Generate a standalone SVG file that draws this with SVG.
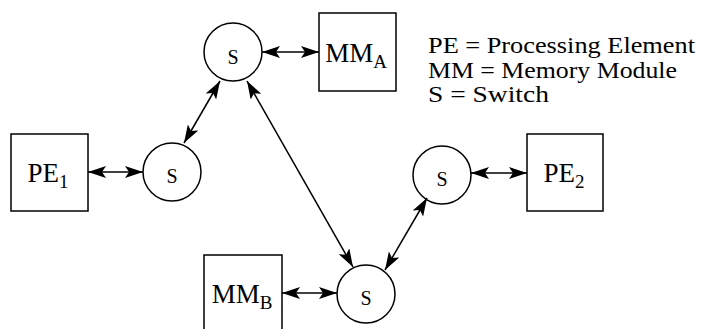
<svg xmlns="http://www.w3.org/2000/svg" width="702" height="329" viewBox="0 0 702 329">
<style>
text{font-family:"Liberation Serif","Times New Roman",serif;fill:#000;font-size:27px}
.lg{font-size:22.5px}
.sw{font-size:20px}
.sub{font-size:19px}
rect,circle{fill:#fff;stroke:#000;stroke-width:1.5}
.c line{stroke:#000;stroke-width:1.5;marker-start:url(#ah);marker-end:url(#ah)}
</style>
<defs>
<marker id="ah" markerUnits="userSpaceOnUse" markerWidth="18" markerHeight="12" refX="18" refY="6" orient="auto-start-reverse" viewBox="0 0 18 12">
<path d="M0,0 L18,6 L0,12 L4,6 z" fill="#000"/>
</marker>
</defs>
<g id="sw-top"><circle cx="233" cy="52" r="29"/><text class="sw" x="233" y="64" text-anchor="middle">S</text></g>
<g id="mm-a"><rect x="319" y="13" width="77" height="78"/><text x="356" y="62" text-anchor="middle">MM<tspan class="sub" dy="6">A</tspan></text></g>
<g id="pe-1"><rect x="11" y="134" width="77" height="77"/><text x="48" y="182" text-anchor="middle">PE<tspan class="sub" dy="6">1</tspan></text></g>
<g id="sw-left"><circle cx="172" cy="172" r="29"/><text class="sw" x="172" y="183" text-anchor="middle">S</text></g>
<g id="sw-right"><circle cx="442" cy="175" r="29"/><text class="sw" x="442" y="186" text-anchor="middle">S</text></g>
<g id="pe-2"><rect x="527" y="134" width="76" height="77"/><text x="564" y="182" text-anchor="middle">PE<tspan class="sub" dy="6">2</tspan></text></g>
<g id="mm-b"><rect x="204" y="255" width="78" height="78"/><text x="242" y="303" text-anchor="middle">MM<tspan class="sub" dy="6">B</tspan></text></g>
<g id="sw-bottom"><circle cx="366" cy="294" r="29"/><text class="sw" x="366" y="305" text-anchor="middle">S</text></g>
<g id="legend">
<text class="lg" x="428" y="53" textLength="267" lengthAdjust="spacingAndGlyphs">PE = Processing Element</text>
<text class="lg" x="428" y="78" textLength="249" lengthAdjust="spacingAndGlyphs">MM = Memory Module</text>
<text class="lg" x="428" y="102" textLength="121" lengthAdjust="spacingAndGlyphs">S = Switch</text>
</g>
<g class="c" id="connectors">
<line x1="262" y1="52" x2="319" y2="52"/>
<line x1="88" y1="172" x2="143" y2="172"/>
<line x1="282" y1="293" x2="337" y2="293"/>
<line x1="471" y1="173" x2="527" y2="173"/>
<line x1="220" y1="81" x2="184" y2="143"/>
<line x1="247" y1="81" x2="353" y2="267"/>
<line x1="385" y1="270" x2="427" y2="198"/>
</g>
</svg>
